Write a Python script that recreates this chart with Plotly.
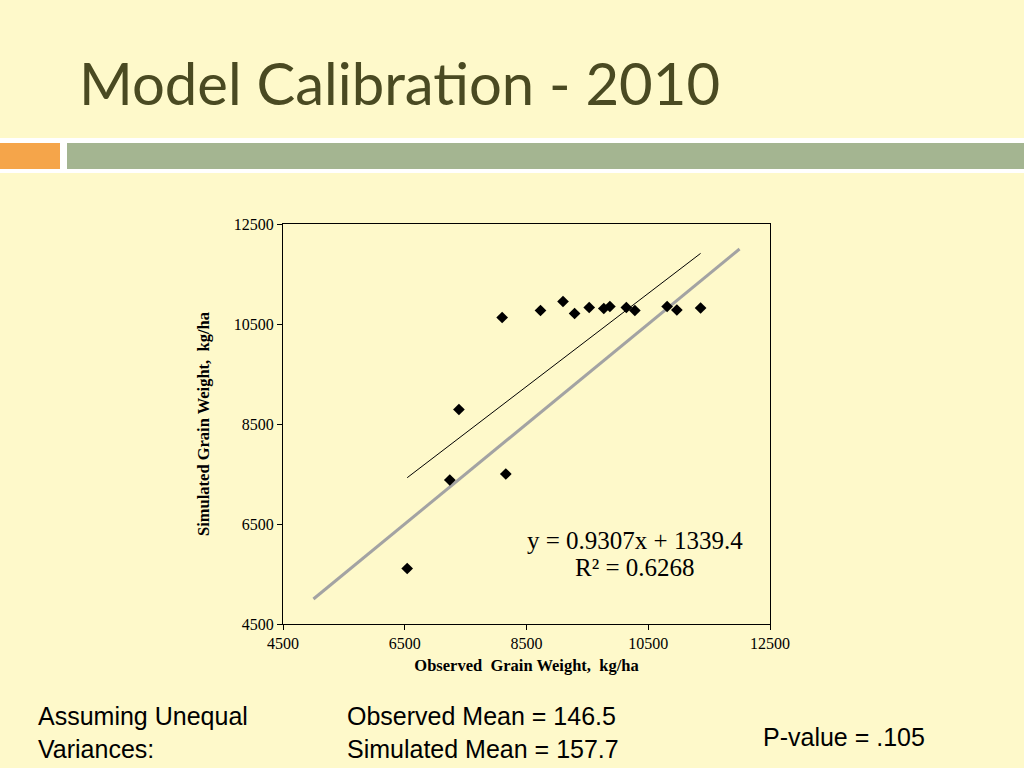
import plotly.graph_objects as go

# observed vs simulated grain weight, kg/ha
observed = [6540, 7240, 7390, 8160, 8100, 8730, 9100, 9290, 9530, 9770,
            9870, 10140, 10280, 10810, 10970, 11360]
simulated = [5610, 7380, 8790, 7500, 10630, 10770, 10950, 10710, 10830, 10810,
             10850, 10830, 10770, 10850, 10780, 10820]

# Excel linear trendline as printed on the chart
slope = 0.9307
intercept = 1339.4
one_to_one = [5000, 12000]

ticks = [4500, 6500, 8500, 10500, 12500]

BG = "#FEF9CA"
W, H = 1024, 768
L, R, T, B = 283, 770, 224, 624


def px(x):
    return (x - L) / (R - L)


def py(y):
    return (B - y) / (B - T)


trend_x = [min(observed), max(observed)]
trend_y = [slope * v + intercept for v in trend_x]

fig = go.Figure()
fig.add_trace(go.Scatter(x=one_to_one, y=one_to_one, mode="lines",
                         line=dict(color="#A3A3A3", width=3), hoverinfo="skip"))
fig.add_trace(go.Scatter(x=trend_x, y=trend_y, mode="lines",
                         line=dict(color="black", width=1), hoverinfo="skip"))
fig.add_trace(go.Scatter(x=observed, y=simulated, mode="markers",
                         marker=dict(symbol="diamond", size=9, color="black")))

serif = "Liberation Serif, Times New Roman, serif"
axis_font = dict(family=serif, size=16, color="black")
title_font = dict(family=serif, size=16.5, color="black")

fig.update_xaxes(range=[4500, 12500], tickvals=ticks, tickformat="d", ticks="outside",
                 ticklen=5, tickcolor="black", showline=True, linecolor="black",
                 linewidth=1, mirror=True, showgrid=False, zeroline=False,
                 tickfont=axis_font,
                 title=dict(text="<b>Observed  Grain Weight,  kg/ha</b>",
                            font=title_font, standoff=8))
fig.update_yaxes(range=[4500, 12500], tickvals=ticks, tickformat="d", ticks="outside",
                 ticklen=5, tickcolor="black", showline=True, linecolor="black",
                 linewidth=1, mirror=True, showgrid=False, zeroline=False,
                 tickfont=axis_font,
                 title=dict(text="<b>Simulated Grain Weight,  kg/ha</b>",
                            font=title_font, standoff=20))

shapes = [
    dict(type="rect", xref="paper", yref="paper", x0=px(0), x1=px(W),
         y0=py(173), y1=py(138), fillcolor="white", line_width=0, layer="below"),
    dict(type="rect", xref="paper", yref="paper", x0=px(0), x1=px(60),
         y0=py(169), y1=py(143), fillcolor="#F5A54A", line_width=0, layer="below"),
    dict(type="rect", xref="paper", yref="paper", x0=px(67), x1=px(W),
         y0=py(169), y1=py(143), fillcolor="#A4B591", line_width=0, layer="below"),
]

sans = "Liberation Sans, Arial, sans-serif"
annotations = [
    dict(text="Model Calibration - 2010", x=px(77), y=py(82), xanchor="left", yanchor="middle",
         font=dict(family="Lato, Century Gothic, sans-serif", size=58, color="#4A4A22")),
    dict(text="y = 0.9307x + 1339.4", x=px(635), y=py(540), xanchor="center",
         yanchor="middle", font=dict(family=serif, size=25, color="black")),
    dict(text="R² = 0.6268", x=px(635), y=py(567), xanchor="center",
         yanchor="middle", font=dict(family=serif, size=25, color="black")),
    dict(text="Assuming Unequal<br>Variances:", x=px(36), y=py(732), xanchor="left",
         yanchor="middle", align="left", font=dict(family=sans, size=25, color="black")),
    dict(text="Observed Mean = 146.5<br>Simulated Mean = 157.7", x=px(345), y=py(732),
         xanchor="left", yanchor="middle", align="left",
         font=dict(family=sans, size=25, color="black")),
    dict(text="P-value = .105", x=px(761), y=py(737), xanchor="left", yanchor="middle",
         font=dict(family=sans, size=25, color="black")),
]
for a in annotations:
    a.update(xref="paper", yref="paper", showarrow=False)

fig.update_layout(width=W, height=H, margin=dict(l=L, r=W - R, t=T, b=H - B),
                  paper_bgcolor=BG, plot_bgcolor=BG, showlegend=False,
                  shapes=shapes, annotations=annotations)

fig.write_html("out.html", config={"displayModeBar": False},
               post_script="document.body.style.margin='0px';")
